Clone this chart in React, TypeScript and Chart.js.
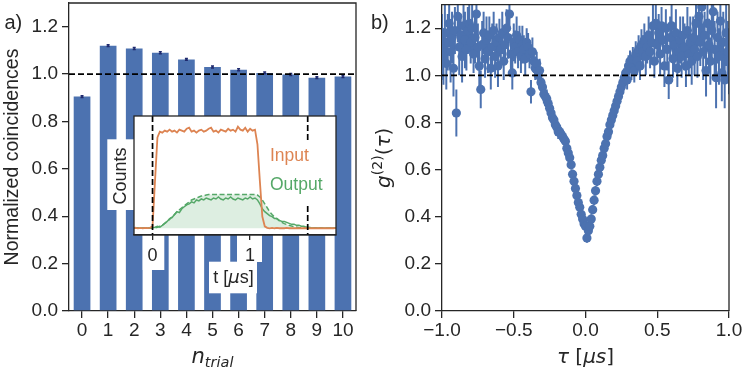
import React, { useEffect, useRef } from 'react';
import { Chart, registerables } from 'chart.js';

Chart.register(...registerables);

const FONT = '"Liberation Sans", Arial, sans-serif';
const MATH = '"DejaVu Sans", sans-serif';
const INK = '#262626';
const BLUE = '#4c72b0';
const ORANGE = '#dd8452';
const GREEN = '#55a868';

// ---------- panel a ----------
const trials = ['0', '1', '2', '3', '4', '5', '6', '7', '8', '9', '10'];
const coincidences = [0.905, 1.12, 1.108, 1.09, 1.062, 1.03, 1.018, 1.005, 0.998, 0.985, 0.99];
const coincErr = [0.004, 0.004, 0.004, 0.004, 0.004, 0.004, 0.004, 0.004, 0.004, 0.004, 0.004];
const yTicks = [0, 0.2, 0.4, 0.6, 0.8, 1.0, 1.2];
const refLevel = 1.0;

// ---------- inset ----------
const insetTicks = [0, 1];
const markerTimes = [0, 1.59];
const tInset = [
  -0.2, -0.175, -0.15, -0.125, -0.1, -0.075, -0.05, -0.025,
  0, 0.025, 0.05, 0.075, 0.1, 0.125, 0.15, 0.175, 0.2, 0.225, 0.25, 0.275,
  0.3, 0.325, 0.35, 0.375, 0.4, 0.425, 0.45, 0.475, 0.5, 0.525, 0.55, 0.575,
  0.6, 0.625, 0.65, 0.675, 0.7, 0.725, 0.75, 0.775, 0.8, 0.825, 0.85, 0.875,
  0.9, 0.925, 0.95, 0.975, 1.0, 1.025, 1.05, 1.075, 1.1, 1.125, 1.15, 1.175,
  1.2, 1.225, 1.25, 1.275, 1.3, 1.325, 1.35, 1.375, 1.4, 1.425, 1.45, 1.475,
  1.5, 1.525, 1.55, 1.575, 1.6, 1.625, 1.65, 1.675, 1.7, 1.725, 1.75, 1.775,
  1.8, 1.825, 1.85, 1.875, 1.9,
];
const inputCounts = [
  0, 0.005, 0, 0.004, 0, 0.003, 0.002, 0.004,
  0.02, 0.48, 0.93, 0.99,
  0.98, 1.0, 0.99, 1.01, 0.99, 1.0, 0.98, 1.01, 1.0, 0.99,
  1.02, 1.03, 0.99, 1.0, 0.98, 1.0, 1.01, 0.99, 1.0, 1.02,
  1.03, 0.99, 1.0, 0.98, 1.01, 1.0, 0.99, 1.02, 1.0, 1.01,
  0.99, 1.04, 1.01, 1.0, 1.03, 0.99, 1.02, 1.0, 1.01,
  0.86, 0.48, 0.12, 0.02,
  0.005, 0, 0.004, 0, 0.003, 0, 0.002, 0, 0.003, 0,
  0.002, 0, 0.001, 0, 0.002, 0, 0.001, 0, 0.002, 0,
  0.001, 0, 0.001, 0, 0.002, 0, 0.001, 0, 0.001, 0,
];
const outputCounts = [
  0.004, 0.002, 0.005, 0.001, 0.003, 0.004, 0.002, 0.003,
  0.005, 0.01, 0.02, 0.012, 0.03, 0.05, 0.07, 0.1, 0.11, 0.14,
  0.17, 0.16, 0.2, 0.22, 0.24, 0.25, 0.27, 0.26, 0.29, 0.28,
  0.3, 0.29, 0.31, 0.3, 0.29, 0.31, 0.3, 0.32, 0.3, 0.29,
  0.31, 0.3, 0.32, 0.3, 0.29, 0.31, 0.3, 0.29, 0.31, 0.3,
  0.32, 0.3, 0.31, 0.29, 0.25, 0.2, 0.17, 0.15, 0.13, 0.12,
  0.1, 0.1, 0.08, 0.07, 0.07, 0.06, 0.05, 0.04, 0.04, 0.03,
  0.03, 0.02, 0.02, 0.012, 0.01,
  0.006, 0.004, 0.005, 0.003, 0.004, 0.002, 0.003, 0.002, 0.003, 0.002, 0.002, 0.002,
];
const outputModel = [
  0, 0, 0, 0, 0, 0, 0, 0,
  0, 0.003, 0.01, 0.02, 0.03, 0.05, 0.07, 0.09, 0.12, 0.14, 0.17, 0.19,
  0.21, 0.23, 0.25, 0.27, 0.29, 0.3, 0.31, 0.32, 0.33, 0.335, 0.34,
  0.345, 0.345, 0.345, 0.345, 0.345, 0.345, 0.345, 0.345, 0.345, 0.345,
  0.345, 0.345, 0.345, 0.345, 0.345, 0.345, 0.345, 0.345, 0.345, 0.345,
  0.34, 0.32, 0.29, 0.25, 0.21, 0.17, 0.14, 0.115, 0.095, 0.075,
  0.06, 0.048, 0.038, 0.03, 0.023, 0.017, 0.012, 0.008, 0.005, 0.003,
  0.002, 0.001, 0, 0, 0, 0, 0, 0, 0, 0, 0, 0, 0, 0,
];

// ---------- panel b ----------
const tauTicks = [-1, -0.5, 0, 0.5, 1];
const tau = [
  -1.0, -0.99, -0.98, -0.97, -0.96, -0.95, -0.94, -0.93, -0.92, -0.91,
  -0.9, -0.89, -0.88, -0.87, -0.86, -0.85, -0.84, -0.83, -0.82, -0.81,
  -0.8, -0.79, -0.78, -0.77, -0.76, -0.75, -0.74, -0.73, -0.72, -0.71,
  -0.7, -0.69, -0.68, -0.67, -0.66, -0.65, -0.64, -0.63, -0.62, -0.61,
  -0.6, -0.59, -0.58, -0.57, -0.56, -0.55, -0.54, -0.53, -0.52, -0.51,
  -0.5, -0.49, -0.48, -0.47, -0.46, -0.45, -0.44, -0.43, -0.42, -0.41,
  -0.4, -0.39, -0.38, -0.37, -0.36, -0.35, -0.34, -0.33, -0.32, -0.31,
  -0.3, -0.29, -0.28, -0.27, -0.26, -0.25, -0.24, -0.23, -0.22, -0.21,
  -0.2, -0.19, -0.18, -0.17, -0.16, -0.15, -0.14, -0.13, -0.12, -0.11,
  -0.1, -0.09, -0.08, -0.07, -0.06, -0.05, -0.04, -0.03, -0.02, -0.01,
  0.0,
  0.01, 0.02, 0.03, 0.04, 0.05, 0.06, 0.07, 0.08, 0.09, 0.1,
  0.11, 0.12, 0.13, 0.14, 0.15, 0.16, 0.17, 0.18, 0.19, 0.2,
  0.21, 0.22, 0.23, 0.24, 0.25, 0.26, 0.27, 0.28, 0.29, 0.3,
  0.31, 0.32, 0.33, 0.34, 0.35, 0.36, 0.37, 0.38, 0.39, 0.4,
  0.41, 0.42, 0.43, 0.44, 0.45, 0.46, 0.47, 0.48, 0.49, 0.5,
  0.51, 0.52, 0.53, 0.54, 0.55, 0.56, 0.57, 0.58, 0.59, 0.6,
  0.61, 0.62, 0.63, 0.64, 0.65, 0.66, 0.67, 0.68, 0.69, 0.7,
  0.71, 0.72, 0.73, 0.74, 0.75, 0.76, 0.77, 0.78, 0.79, 0.8,
  0.81, 0.82, 0.83, 0.84, 0.85, 0.86, 0.87, 0.88, 0.89, 0.9,
  0.91, 0.92, 0.93, 0.94, 0.95, 0.96, 0.97, 0.98, 0.99, 1.0,
];
const g2 = [
  1.12, 1.08, 1.18, 1.05, 1.14, 1.22, 1.10, 1.16, 1.03, 1.19,
  0.84, 1.25, 1.12, 1.17, 1.08, 1.21, 1.15, 1.11, 1.19, 1.22,
  1.14, 1.20, 1.09, 1.16, 1.26, 1.12, 1.04, 0.94, 1.13, 1.18,
  1.07, 1.15, 1.10, 1.17, 1.03, 1.12, 1.19, 1.08, 1.14, 1.04,
  1.16, 1.11, 1.18, 1.06, 1.13, 1.20, 1.16, 1.26, 1.09, 1.01,
  1.14, 1.12, 1.17, 1.10, 1.15, 1.08, 1.13, 1.11, 1.07, 1.14,
  1.12, 1.09, 0.93, 1.10, 1.06, 1.03, 1.05, 1.00, 1.02, 0.97,
  0.95, 0.92, 0.91, 0.90, 0.88, 0.86, 0.84, 0.82, 0.81, 0.79,
  0.78, 0.76, 0.76, 0.75, 0.74, 0.73, 0.72, 0.69, 0.67, 0.65,
  0.62, 0.58, 0.55, 0.52, 0.49, 0.46, 0.44, 0.41, 0.39, 0.37,
  0.36,
  0.31, 0.34, 0.36, 0.39, 0.43, 0.47, 0.51, 0.55, 0.58, 0.61,
  0.64, 0.66, 0.69, 0.71, 0.74, 0.76, 0.79, 0.81, 0.83, 0.85,
  0.87, 0.89, 0.91, 0.93, 0.95, 0.97, 0.99, 1.01, 0.98, 1.04,
  1.06, 1.03, 1.07, 1.02, 1.09, 1.06, 1.11, 1.04, 1.13, 1.10,
  1.15, 1.08, 1.12, 1.17, 1.10, 1.14, 1.21, 1.06, 1.22, 1.13,
  1.18, 1.09, 1.21, 1.15, 1.04, 1.20, 1.11, 0.98, 1.16, 1.21,
  1.07, 1.13, 1.18, 1.03, 1.10, 1.15, 1.08, 1.17, 1.12, 1.04,
  1.19, 1.09, 1.14, 1.06, 1.16, 1.11, 1.22, 1.08, 1.25, 1.14,
  1.29, 1.10, 1.17, 1.02, 1.22, 1.13, 1.06, 1.19, 1.27, 1.11,
  0.99, 1.16, 1.08, 1.23, 1.01, 1.14, 0.98, 1.18, 1.10, 1.06,
];
const g2Err = [
  0.14, 0.12, 0.13, 0.11, 0.12, 0.10, 0.13, 0.11, 0.12, 0.10,
  0.10, 0.11, 0.12, 0.09, 0.11, 0.10, 0.12, 0.09, 0.10, 0.11,
  0.09, 0.10, 0.08, 0.11, 0.09, 0.10, 0.09, 0.08, 0.10, 0.09,
  0.08, 0.10, 0.09, 0.08, 0.09, 0.10, 0.08, 0.09, 0.08, 0.09,
  0.08, 0.07, 0.09, 0.08, 0.07, 0.08, 0.09, 0.07, 0.08, 0.07,
  0.08, 0.07, 0.08, 0.07, 0.06, 0.07, 0.08, 0.06, 0.07, 0.06,
  0.06, 0.06, 0.05, 0.06, 0.05, 0.05, 0.05, 0.04, 0.05, 0.04,
  0.04, 0.04, 0.04, 0.04, 0.035, 0.035, 0.035, 0.03, 0.03, 0.03,
  0.03, 0.03, 0.03, 0.03, 0.025, 0.025, 0.025, 0.025, 0.025, 0.025,
  0.02, 0.02, 0.02, 0.02, 0.02, 0.02, 0.02, 0.02, 0.02, 0.02,
  0.02,
  0.02, 0.02, 0.02, 0.02, 0.02, 0.02, 0.02, 0.02, 0.02, 0.02,
  0.025, 0.025, 0.025, 0.025, 0.025, 0.025, 0.03, 0.03, 0.03, 0.03,
  0.03, 0.03, 0.035, 0.035, 0.035, 0.04, 0.04, 0.04, 0.04, 0.045,
  0.045, 0.05, 0.05, 0.05, 0.055, 0.06, 0.06, 0.06, 0.065, 0.07,
  0.07, 0.08, 0.07, 0.08, 0.07, 0.08, 0.09, 0.07, 0.08, 0.08,
  0.08, 0.09, 0.08, 0.07, 0.09, 0.08, 0.09, 0.08, 0.09, 0.10,
  0.08, 0.09, 0.10, 0.08, 0.09, 0.10, 0.09, 0.08, 0.10, 0.09,
  0.10, 0.09, 0.11, 0.10, 0.09, 0.11, 0.10, 0.09, 0.11, 0.10,
  0.11, 0.12, 0.10, 0.11, 0.12, 0.11, 0.10, 0.12, 0.11, 0.12,
  0.13, 0.11, 0.12, 0.14, 0.12, 0.13, 0.12, 0.14, 0.13, 0.14,
];

// ---------- helpers ----------
type Part = { text: string; font: string; dy?: number };

function drawRich(ctx: CanvasRenderingContext2D, parts: Part[], x: number, y: number) {
  let total = 0;
  const widths = parts.map((p) => {
    ctx.font = p.font;
    const w = ctx.measureText(p.text).width;
    total += w;
    return w;
  });
  let cx = x - total / 2;
  ctx.textAlign = 'left';
  ctx.textBaseline = 'alphabetic';
  parts.forEach((p, i) => {
    ctx.font = p.font;
    ctx.fillText(p.text, cx, y + (p.dy || 0));
    cx += widths[i];
  });
}

function drawTopRightSpines(chart: any) {
  const { ctx, chartArea: a } = chart;
  ctx.save();
  ctx.strokeStyle = INK;
  ctx.lineWidth = 1.3;
  ctx.beginPath();
  ctx.moveTo(a.left, a.top);
  ctx.lineTo(a.right, a.top);
  ctx.lineTo(a.right, a.bottom);
  ctx.stroke();
  ctx.restore();
}

function drawRefLine(chart: any) {
  const { ctx, chartArea: a, scales } = chart;
  const py = scales.y.getPixelForValue(refLevel);
  ctx.save();
  ctx.strokeStyle = '#000';
  ctx.lineWidth = 1.8;
  ctx.setLineDash([6, 3]);
  ctx.beginPath();
  ctx.moveTo(a.left, py);
  ctx.lineTo(a.right, py);
  ctx.stroke();
  ctx.restore();
}

const tickFont = { family: FONT, size: 19 };

function yAxis(width: number) {
  return {
    min: 0,
    max: 1.3,
    afterBuildTicks: (s: any) => {
      s.ticks = yTicks.map((v) => ({ value: v }));
    },
    grid: { display: true, drawOnChartArea: false, drawTicks: true, tickLength: 7, color: INK, lineWidth: 1.3 },
    border: { display: true, color: INK, width: 1.3 },
    ticks: { font: tickFont, color: INK, padding: 4, callback: (v: any) => Number(v).toFixed(1) },
    afterFit: (s: any) => {
      s.width = width;
      s.paddingTop = 0;
      s.paddingBottom = 0;
    },
  };
}

function makeA(canvas: HTMLCanvasElement) {
  return new Chart(canvas, {
    type: 'bar',
    data: {
      labels: trials,
      datasets: [
        {
          data: coincidences,
          backgroundColor: BLUE,
          borderWidth: 0,
          barPercentage: 0.64,
          categoryPercentage: 1,
        },
      ],
    },
    options: {
      animation: false,
      responsive: false,
      maintainAspectRatio: false,
      layout: { padding: { top: 3, right: 16, left: 0, bottom: 0 } },
      plugins: { legend: { display: false }, tooltip: { enabled: false } },
      scales: {
        x: {
          grid: { display: true, offset: false, drawOnChartArea: false, drawTicks: true, tickLength: 7, color: INK, lineWidth: 1.3 },
          border: { display: true, color: INK, width: 1.3 },
          ticks: { font: tickFont, color: INK, padding: 1, maxRotation: 0, autoSkip: false },
          afterFit: (s: any) => {
            s.height = 63;
            s.paddingLeft = 0;
            s.paddingRight = 0;
          },
        },
        y: yAxis(69),
      },
    } as any,
    plugins: [
      {
        id: 'panelA',
        afterDatasetsDraw(chart: any) {
          const { ctx, scales } = chart;
          ctx.save();
          ctx.strokeStyle = '#1f2a6e';
          ctx.lineWidth = 1.5;
          coincidences.forEach((v, i) => {
            const px = scales.x.getPixelForValue(i);
            const top = scales.y.getPixelForValue(v + coincErr[i]);
            const bot = scales.y.getPixelForValue(v - coincErr[i]);
            ctx.beginPath();
            ctx.moveTo(px, top);
            ctx.lineTo(px, bot);
            ctx.moveTo(px - 1.5, top);
            ctx.lineTo(px + 1.5, top);
            ctx.moveTo(px - 1.5, bot);
            ctx.lineTo(px + 1.5, bot);
            ctx.stroke();
          });
          ctx.restore();
          drawRefLine(chart);
        },
        afterDraw(chart: any) {
          const { ctx, chartArea: a } = chart;
          drawTopRightSpines(chart);
          ctx.save();
          ctx.fillStyle = INK;
          ctx.textAlign = 'left';
          ctx.textBaseline = 'alphabetic';
          ctx.font = `20px ${FONT}`;
          ctx.fillText('a)', 4.5, 29);
          ctx.translate(18, (a.top + a.bottom) / 2);
          ctx.rotate(-Math.PI / 2);
          ctx.textAlign = 'center';
          ctx.font = `19.5px ${FONT}`;
          ctx.fillText('Normalized coincidences', 0, 0);
          ctx.restore();
          ctx.save();
          ctx.fillStyle = INK;
          drawRich(
            ctx,
            [
              { text: 'n', font: `italic 21px ${MATH}` },
              { text: 'trial', font: `italic 14.5px ${MATH}`, dy: 3.5 },
            ],
            (a.left + a.right) / 2,
            363.3
          );
          ctx.restore();
        },
      },
    ],
  });
}

function makeInset(canvas: HTMLCanvasElement) {
  const pts = (ys: number[]) => tInset.map((t, i) => ({ x: t, y: ys[i] }));
  return new Chart(canvas, {
    type: 'line',
    data: {
      datasets: [
        { data: pts(inputCounts), borderColor: ORANGE, borderWidth: 1.8, pointRadius: 0, fill: false, tension: 0 },
        { data: pts(outputCounts), borderColor: GREEN, borderWidth: 1.5, pointRadius: 0, fill: false, tension: 0 },
        {
          data: pts(outputModel),
          borderColor: GREEN,
          borderWidth: 1.5,
          borderDash: [5, 2.5],
          pointRadius: 0,
          fill: 'origin',
          backgroundColor: 'rgba(85,168,104,0.2)',
          tension: 0,
        },
      ],
    },
    options: {
      animation: false,
      responsive: false,
      maintainAspectRatio: false,
      layout: { padding: { top: 11, left: 34, right: 14, bottom: 0 } },
      plugins: { legend: { display: false }, tooltip: { enabled: false } },
      scales: {
        x: {
          type: 'linear',
          min: -0.19,
          max: 1.88,
          afterBuildTicks: (s: any) => {
            s.ticks = insetTicks.map((v) => ({ value: v }));
          },
          grid: { display: true, drawOnChartArea: false, drawTicks: true, tickLength: 5, color: INK, lineWidth: 1.3 },
          border: { display: true, color: INK, width: 1.3 },
          ticks: { font: { family: FONT, size: 18 }, color: INK, padding: 5, maxRotation: 0, callback: (v: any) => String(v) },
          afterFit: (s: any) => {
            s.height = 70;
            s.paddingLeft = 0;
            s.paddingRight = 0;
          },
        },
        y: { display: false, min: -0.069, max: 1.15 },
      },
    } as any,
    plugins: [
      {
        id: 'inset',
        beforeDraw(chart: any) {
          const { ctx, chartArea: a } = chart;
          ctx.save();
          ctx.fillStyle = '#fff';
          ctx.fillRect(7.3, 34.3, 26.7, 70.7);
          ctx.fillRect(42.7, 130, 21.6, 35);
          ctx.fillRect(137, 130, 25, 27);
          ctx.fillRect(109, 156.7, 48, 31.6);
          ctx.fillRect(a.left, a.top, a.right - a.left, a.bottom - a.top);
          ctx.restore();
        },
        afterDatasetsDraw(chart: any) {
          const { ctx, chartArea: a, scales } = chart;
          ctx.save();
          ctx.strokeStyle = '#000';
          ctx.lineWidth = 1.7;
          ctx.setLineDash([6, 3]);
          markerTimes.forEach((t) => {
            const px = scales.x.getPixelForValue(t);
            ctx.beginPath();
            ctx.moveTo(px, a.top);
            ctx.lineTo(px, a.bottom);
            ctx.stroke();
          });
          ctx.setLineDash([]);
          ctx.fillStyle = '#fff';
          ctx.fillRect(166, 37, 66, 64);
          ctx.textAlign = 'left';
          ctx.textBaseline = 'alphabetic';
          ctx.font = `17.5px ${FONT}`;
          ctx.fillStyle = ORANGE;
          ctx.fillText('Input', 170, 55.7);
          ctx.fillStyle = GREEN;
          ctx.fillText('Output', 170, 85);
          ctx.restore();
        },
        afterDraw(chart: any) {
          const { ctx, chartArea: a } = chart;
          ctx.save();
          ctx.strokeStyle = INK;
          ctx.lineWidth = 1.3;
          ctx.strokeRect(a.left, a.top, a.right - a.left, a.bottom - a.top);
          ctx.fillStyle = INK;
          ctx.translate(26, 71);
          ctx.rotate(-Math.PI / 2);
          ctx.textAlign = 'center';
          ctx.textBaseline = 'alphabetic';
          ctx.font = `18px ${FONT}`;
          ctx.fillText('Counts', 0, 0);
          ctx.restore();
          ctx.save();
          ctx.fillStyle = INK;
          drawRich(
            ctx,
            [
              { text: 't [', font: `18px ${FONT}` },
              { text: 'μ', font: `italic 18px ${MATH}` },
              { text: 's]', font: `18px ${FONT}` },
            ],
            133.5,
            178
          );
          ctx.restore();
        },
      },
    ],
  });
}

function makeB(canvas: HTMLCanvasElement) {
  return new Chart(canvas, {
    type: 'scatter',
    data: {
      datasets: [
        {
          data: tau.map((t, i) => ({ x: t, y: g2[i] })),
          backgroundColor: BLUE,
          borderWidth: 0,
          pointRadius: 4.6,
          pointHoverRadius: 4.6,
          clip: 0,
        },
      ],
    },
    options: {
      animation: false,
      responsive: false,
      maintainAspectRatio: false,
      layout: { padding: { top: 3, right: 18, left: 0, bottom: 0 } },
      plugins: { legend: { display: false }, tooltip: { enabled: false } },
      scales: {
        x: {
          type: 'linear',
          min: -1,
          max: 1,
          afterBuildTicks: (s: any) => {
            s.ticks = tauTicks.map((v) => ({ value: v }));
          },
          grid: { display: true, drawOnChartArea: false, drawTicks: true, tickLength: 7, color: INK, lineWidth: 1.3 },
          border: { display: true, color: INK, width: 1.3 },
          ticks: {
            font: tickFont,
            color: INK,
            padding: 1,
            maxRotation: 0,
            callback: (v: any) => {
              const n = Number(v);
              return (n < 0 ? '\u2212' : '') + Math.abs(n).toFixed(1);
            },
          },
          afterFit: (s: any) => {
            s.height = 63;
            s.paddingLeft = 0;
            s.paddingRight = 0;
          },
        },
        y: yAxis(76),
      },
    } as any,
    plugins: [
      {
        id: 'panelB',
        beforeDatasetsDraw(chart: any) {
          const { ctx, chartArea: a, scales } = chart;
          ctx.save();
          ctx.beginPath();
          ctx.rect(a.left, a.top, a.right - a.left, a.bottom - a.top);
          ctx.clip();
          ctx.strokeStyle = BLUE;
          ctx.lineWidth = 2;
          ctx.beginPath();
          tau.forEach((t, i) => {
            const px = scales.x.getPixelForValue(t);
            ctx.moveTo(px, scales.y.getPixelForValue(g2[i] + g2Err[i]));
            ctx.lineTo(px, scales.y.getPixelForValue(g2[i] - g2Err[i]));
          });
          ctx.stroke();
          ctx.restore();
        },
        afterDatasetsDraw(chart: any) {
          drawRefLine(chart);
        },
        afterDraw(chart: any) {
          const { ctx, chartArea: a } = chart;
          drawTopRightSpines(chart);
          ctx.save();
          ctx.fillStyle = INK;
          ctx.textAlign = 'left';
          ctx.textBaseline = 'alphabetic';
          ctx.font = `20px ${FONT}`;
          ctx.fillText('b)', 5, 29);
          ctx.restore();
          ctx.save();
          ctx.fillStyle = INK;
          ctx.translate(23.5, (a.top + a.bottom) / 2);
          ctx.rotate(-Math.PI / 2);
          drawRich(
            ctx,
            [
              { text: 'g', font: `italic 20px ${MATH}` },
              { text: '(2)', font: `14px ${MATH}`, dy: -8 },
              { text: '(', font: `20px ${MATH}` },
              { text: 'τ', font: `italic 20px ${MATH}` },
              { text: ')', font: `20px ${MATH}` },
            ],
            0,
            0
          );
          ctx.restore();
          ctx.save();
          ctx.fillStyle = INK;
          drawRich(
            ctx,
            [
              { text: 'τ', font: `italic 20px ${MATH}` },
              { text: ' [', font: `20px ${MATH}` },
              { text: 'μs', font: `italic 20px ${MATH}` },
              { text: ']', font: `20px ${MATH}` },
            ],
            (a.left + a.right) / 2,
            363
          );
          ctx.restore();
        },
      },
    ],
  });
}

export default function App() {
  const aRef = useRef<HTMLCanvasElement>(null);
  const iRef = useRef<HTMLCanvasElement>(null);
  const bRef = useRef<HTMLCanvasElement>(null);

  useEffect(() => {
    const charts: Chart[] = [];
    if (aRef.current) charts.push(makeA(aRef.current));
    if (iRef.current) charts.push(makeInset(iRef.current));
    if (bRef.current) charts.push(makeB(bRef.current));
    return () => charts.forEach((c) => c.destroy());
  }, []);

  return (
    <div style={{ position: 'absolute', left: 0, top: 0, width: 747, height: 374, background: '#fff', overflow: 'hidden' }}>
      <canvas ref={aRef} width={372} height={374} style={{ position: 'absolute', left: 0, top: 0, width: 372, height: 374 }} />
      <canvas ref={iRef} width={250} height={200} style={{ position: 'absolute', left: 100, top: 105, width: 250, height: 200 }} />
      <canvas ref={bRef} width={381} height={374} style={{ position: 'absolute', left: 366, top: 0, width: 381, height: 374 }} />
    </div>
  );
}
